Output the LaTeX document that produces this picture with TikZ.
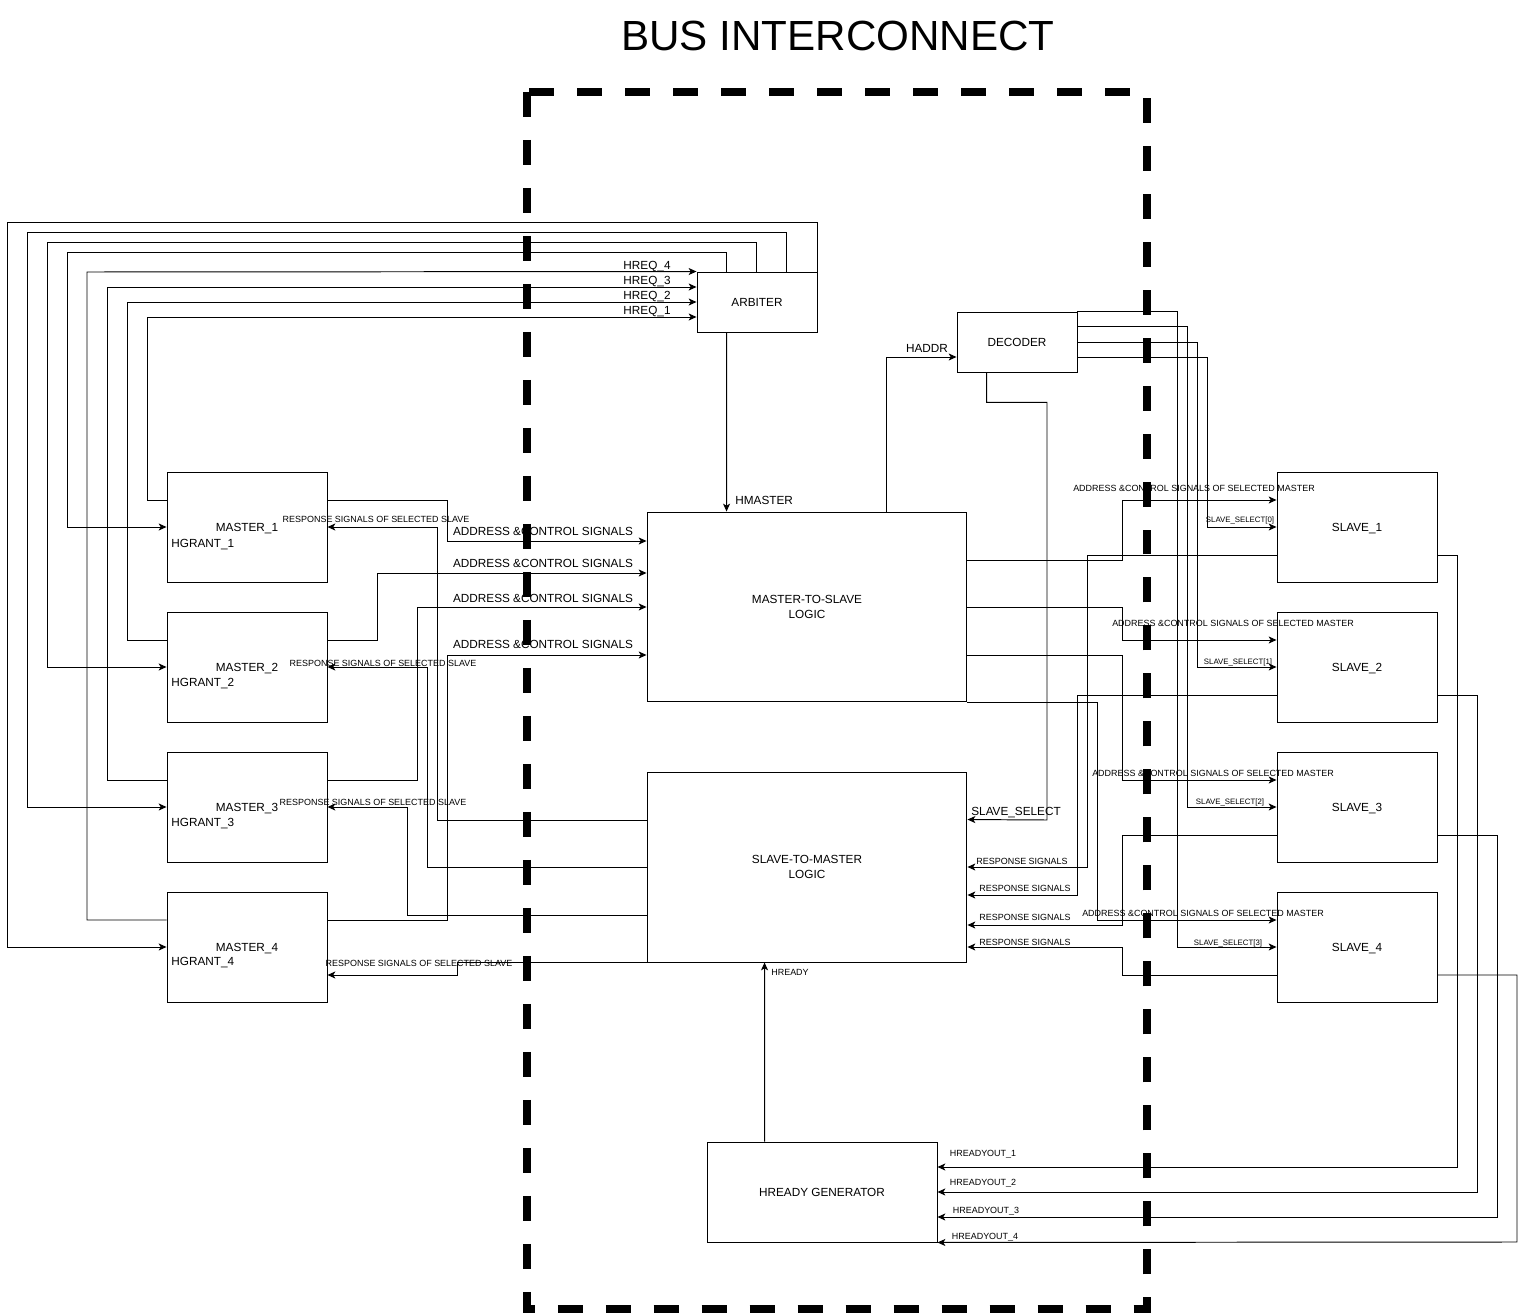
\documentclass[tikz,border=0pt]{standalone}
\usepackage{fontspec}
\setmainfont{Liberation Sans}
\usetikzlibrary{calc,arrows.meta}
\newcommand{\boxfont}{\fontsize{6.7}{8.5}\selectfont}
\newcommand{\sigfont}{\fontsize{5.1}{6}\selectfont}
\newcommand{\selfont}{\fontsize{4.45}{5}\selectfont}
\tikzstyle{box}=[rectangle, draw=black, line width=0.55pt, inner sep=0pt, align=center, font=\boxfont, anchor=center]
\tikzstyle{annot}=[inner sep=0pt, text depth=0pt, font=\boxfont]
\tikzstyle{sigannot}=[inner sep=0pt, text depth=0pt, font=\sigfont]
\tikzstyle{selannot}=[inner sep=0pt, text depth=0pt, font=\selfont]
\tikzstyle{wire}=[line width=0.55pt]
\tikzstyle{arr}=[wire, -{Stealth[length=4.5pt,width=4pt,inset=1.2pt]}]
\newcommand{\drawmasters}[0]
{
  \node[box, minimum width=3.2cm, minimum height=2.2cm](master1) at (247,527){};
  \node[box, minimum width=3.2cm, minimum height=2.2cm](master2) at (247,667){};
  \node[box, minimum width=3.2cm, minimum height=2.2cm](master3) at (247,807){};
  \node[box, minimum width=3.2cm, minimum height=2.2cm](master4) at (247,947){};
  \node[annot](mname1) at (247,527){MASTER\_1};
  \node[annot](mname2) at (247,667){MASTER\_2};
  \node[annot](mname3) at (247,807){MASTER\_3};
  \node[annot](mname4) at (247,947){MASTER\_4};
  \node[annot, anchor=west](hgrant1) at (171,543){HGRANT\_1};
  \node[annot, anchor=west](hgrant2) at (171,682){HGRANT\_2};
  \node[annot, anchor=west](hgrant3) at (171,822){HGRANT\_3};
  \node[annot, anchor=west](hgrant4) at (171,961){HGRANT\_4};
}
\newcommand{\drawslaves}[0]
{
  \node[box, minimum width=3.2cm, minimum height=2.2cm](slave1) at (1357,527){};
  \node[box, minimum width=3.2cm, minimum height=2.2cm](slave2) at (1357,667){};
  \node[box, minimum width=3.2cm, minimum height=2.2cm](slave3) at (1357,807){};
  \node[box, minimum width=3.2cm, minimum height=2.2cm](slave4) at (1357,947){};
  \node[annot](sname1) at (1357,527){SLAVE\_1};
  \node[annot](sname2) at (1357,667){SLAVE\_2};
  \node[annot](sname3) at (1357,807){SLAVE\_3};
  \node[annot](sname4) at (1357,947){SLAVE\_4};
}
\begin{document}
\begin{tikzpicture}[x=0.02cm, y=-0.02cm]
	\useasboundingbox (0,0) rectangle (1526,1314);
	\node[inner sep=0pt, text depth=0pt, font=\fontsize{24}{28}\selectfont](title) at (838,36){BUS INTERCONNECT};

	\drawmasters{}
	\drawslaves{}
	\node[box, minimum width=2.4cm, minimum height=1.2cm](arbiter) at (757,302){};
	\node[annot](arbname) at (757,302){ARBITER};
	\node[box, minimum width=2.4cm, minimum height=1.2cm](decoder) at (1017,342){};
	\node[annot](decname) at (1017,342){DECODER};
	\node[box, minimum width=6.4cm, minimum height=3.8cm](mtos) at (807,607){MASTER-TO-SLAVE\\LOGIC};
	\node[box, minimum width=6.4cm, minimum height=3.8cm](stom) at (807,867){SLAVE-TO-MASTER\\LOGIC};
	\node[box, minimum width=4.6cm, minimum height=2.0cm](hreadygen) at (822,1192){};
	\node[annot](hgname) at (822,1192){HREADY GENERATOR};

	% grants from the arbiter
	\draw[arr] ($(arbiter.north west)+(30,0)$) |- (67,252) |- (master1.west);
	\draw[arr] ($(arbiter.north west)+(60,0)$) |- (47,242) |- (master2.west);
	\draw[arr] ($(arbiter.north west)+(90,0)$) |- (27,232) |- (master3.west);
	\draw[arr] (arbiter.north east) |- (7,222) |- (master4.west);
	% requests
	\draw[arr] ($(master1.west)+(0,-27)$) -| (147,317) -- ($(arbiter.west)+(0,15)$);
	\draw[arr] ($(master2.west)+(0,-27)$) -| (127,302) -- (arbiter.west);
	\draw[arr] ($(master3.west)+(0,-27)$) -| (107,287) -- ($(arbiter.west)+(0,-15)$);
	\draw[arr] ($(master4.west)+(0,-27)$) -| (87,272) -- (arbiter.north west);
	\node[annot](hreq4) at (647,265){HREQ\_4};
	\node[annot](hreq3) at (647,280){HREQ\_3};
	\node[annot](hreq2) at (647,295){HREQ\_2};
	\node[annot](hreq1) at (647,310){HREQ\_1};

	\draw[arr] ($(arbiter.south west)+(30,0)$) -- ($(mtos.north west)+(80,0)$);
	\node[annot, anchor=west](hmaster) at (735,500){HMASTER};
	\draw[arr] ($(mtos.north west)+(240,0)$) |- ($(decoder.west)+(0,15)$);
	\node[annot](haddr) at (927,348){HADDR};
	\draw[arr] ($(decoder.south west)+(30,0)$) -- ++(0,30) -| (1047,820) -- ($(stom.north east)+(0,48)$);
	\node[annot, anchor=west](slsel) at (971,811){SLAVE\_SELECT};

	% decoder to slaves
	\draw[arr] ($(decoder.east)+(0,15)$) -| (1207,527) -- (slave1.west);
	\draw[arr] (decoder.east) -| (1197,667) -- (slave2.west);
	\draw[arr] ($(decoder.north east)+(0,15)$) -| (1187,807) -- (slave3.west);
	\draw[arr] (decoder.north east) -| (1177,947) -- (slave4.west);
	\node[selannot](sel0) at (1240,520){SLAVE\_SELECT[0]};
	\node[selannot](sel1) at (1238,662){SLAVE\_SELECT[1]};
	\node[selannot](sel2) at (1230,802){SLAVE\_SELECT[2]};
	\node[selannot](sel3) at (1228,943){SLAVE\_SELECT[3]};

	% masters to master-to-slave logic
	\draw[arr] ($(master1.east)+(0,-27)$) -| (447,541) -- ($(mtos.west)+(0,-66)$);
	\draw[arr] ($(master2.east)+(0,-27)$) -| (377,573) -- ($(mtos.west)+(0,-34)$);
	\draw[arr] ($(master3.east)+(0,-27)$) -| (417,607) -- (mtos.west);
	\draw[arr] ($(master4.east)+(0,-27)$) -| (447,655) -- ($(mtos.west)+(0,48)$);
	\node[annot](adr1) at (543,531){ADDRESS \&CONTROL SIGNALS};
	\node[annot](adr2) at (543,563){ADDRESS \&CONTROL SIGNALS};
	\node[annot](adr3) at (543,598){ADDRESS \&CONTROL SIGNALS};
	\node[annot](adr4) at (543,644){ADDRESS \&CONTROL SIGNALS};

	% slave-to-master logic back to masters
	\draw[arr] ($(stom.west)+(0,-47)$) -| (437,527) -- (master1.east);
	\draw[arr] (stom.west) -| (427,667) -- (master2.east);
	\draw[arr] ($(stom.west)+(0,48)$) -| (407,807) -- (master3.east);
	\draw[arr] (stom.south west) -| (457,975) -- ($(master4.east)+(0,28)$);
	\node[sigannot](rsp1) at (376,519){RESPONSE SIGNALS OF SELECTED SLAVE};
	\node[sigannot](rsp2) at (383,663){RESPONSE SIGNALS OF SELECTED SLAVE};
	\node[sigannot](rsp3) at (373,802){RESPONSE SIGNALS OF SELECTED SLAVE};
	\node[sigannot](rsp4) at (419,963){RESPONSE SIGNALS OF SELECTED SLAVE};

	% master-to-slave logic to slaves
	\draw[arr] ($(mtos.east)+(0,-47)$) -| (1122,500) -- ($(slave1.west)+(0,-27)$);
	\draw[arr] (mtos.east) -| (1122,640) -- ($(slave2.west)+(0,-27)$);
	\draw[arr] ($(mtos.east)+(0,48)$) -| (1122,780) -- ($(slave3.west)+(0,-27)$);
	\draw[arr] (mtos.south east) -| (1097,920) -- ($(slave4.west)+(0,-27)$);
	\node[sigannot](sadr1) at (1194,488){ADDRESS \&CONTROL SIGNALS OF SELECTED MASTER};
	\node[sigannot](sadr2) at (1233,623){ADDRESS \&CONTROL SIGNALS OF SELECTED MASTER};
	\node[sigannot](sadr3) at (1213,773){ADDRESS \&CONTROL SIGNALS OF SELECTED MASTER};
	\node[sigannot](sadr4) at (1203,913){ADDRESS \&CONTROL SIGNALS OF SELECTED MASTER};

	% slaves to slave-to-master logic
	\draw[arr] ($(slave1.west)+(0,28)$) -| (1087,867) -- (stom.east);
	\draw[arr] ($(slave2.west)+(0,28)$) -| (1077,895) -- ($(stom.east)+(0,28)$);
	\draw[arr] ($(slave3.west)+(0,28)$) -| (1122,925) -- ($(stom.east)+(0,58)$);
	\draw[arr] ($(slave4.west)+(0,28)$) -| (1122,947) -- ($(stom.east)+(0,80)$);
	\node[sigannot](srsp1) at (1022,861){RESPONSE SIGNALS};
	\node[sigannot](srsp2) at (1025,888){RESPONSE SIGNALS};
	\node[sigannot](srsp3) at (1025,917){RESPONSE SIGNALS};
	\node[sigannot](srsp4) at (1025,942){RESPONSE SIGNALS};

	% slaves to hready generator
	\draw[arr] ($(slave1.east)+(0,28)$) -| (1457,1167) -- ($(hreadygen.east)+(0,-25)$);
	\draw[arr] ($(slave2.east)+(0,28)$) -| (1477,1192) -- (hreadygen.east);
	\draw[arr] ($(slave3.east)+(0,28)$) -| (1497,1217) -- ($(hreadygen.east)+(0,25)$);
	\draw[arr] ($(slave4.east)+(0,28)$) -| (1517,1242) -- (hreadygen.south east);
	\node[sigannot](hro1) at (983,1153){HREADYOUT\_1};
	\node[sigannot](hro2) at (983,1182){HREADYOUT\_2};
	\node[sigannot](hro3) at (986,1210){HREADYOUT\_3};
	\node[sigannot](hro4) at (985,1236){HREADYOUT\_4};

	\draw[arr] ($(hreadygen.north west)+(58,0)$) -- ($(stom.south west)+(118,0)$);
	\node[sigannot](hready) at (790,972){HREADY};

	% the bus boundary
	\draw[line width=4.5pt, dash pattern=on 0.5cm off 0.46cm] (527,92) rectangle (1147,1309);
\end{tikzpicture}
\end{document}
